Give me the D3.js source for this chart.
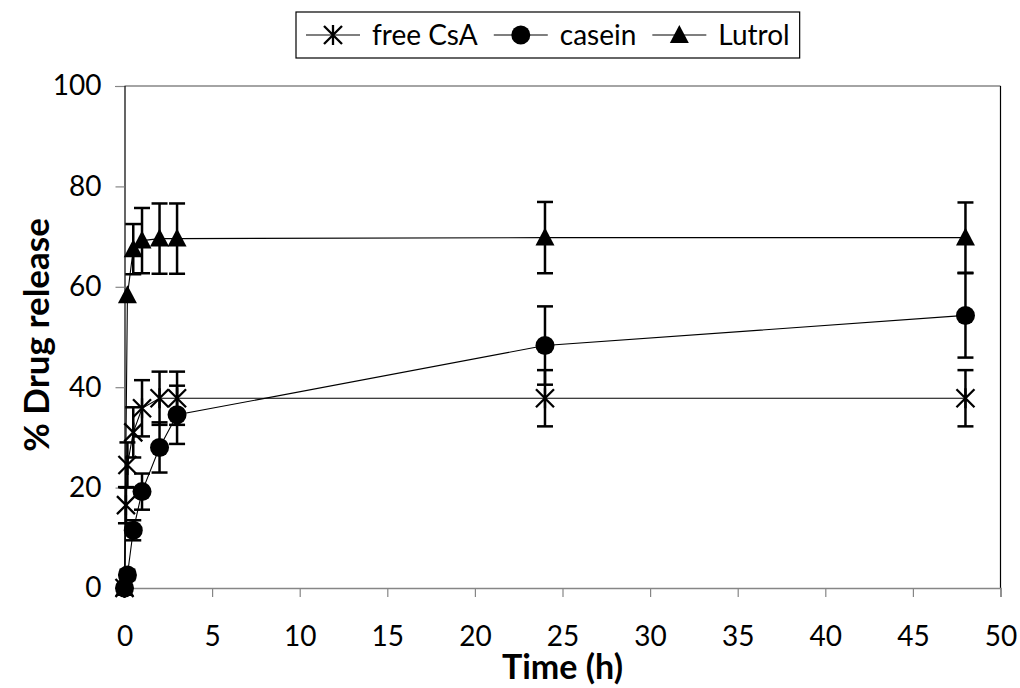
<!DOCTYPE html>
<html>
<head>
<meta charset="utf-8">
<script src="https://cdn.jsdelivr.net/npm/d3@7"></script>
<style>
  body { margin: 0; background: #fff; }
  text { font-family: Lato, "Open Sans", sans-serif; fill: #000; }
</style>
</head>
<body>
<div id="chart-area"></div>
<script>
// DATA
const timesFree = [0, 0.083, 0.167, 0.5, 1, 2, 3, 24, 48]
const freeCsA = [0, 16.5, 24.5, 31, 35.8, 37.8, 37.8, 37.8, 37.8]
const freeCsAErr = [0, 3.6, 4.5, 5, 5.6, 5.3, 5.3, 5.6, 5.6]

const timesCasein = [0, 0.167, 0.5, 1, 2, 3, 24, 48]
const casein = [0, 2.6, 11.5, 19.2, 28, 34.5, 48.3, 54.3]
const caseinErr = [0, 1, 2, 3.6, 5, 5.8, 7.8, 8.4]

const timesLutrol = [0, 0.167, 0.5, 1, 2, 3, 24, 48]
const lutrol = [0, 58.3, 67.5, 69.2, 69.6, 69.6, 69.8, 69.8]
const lutrolErr = [0, 0, 5, 6.5, 7, 7, 7.1, 7]

const seriesNames = ["free CsA", "casein", "Lutrol"]
const xTicks = [0, 5, 10, 15, 20, 25, 30, 35, 40, 45, 50]
const yTicks = [0, 20, 40, 60, 80, 100]

const W = 1020, H = 688
const MARGIN = { LEFT: 124.5, RIGHT: 19.5, TOP: 86, BOTTOM: 100 }
const WIDTH = W - MARGIN.LEFT - MARGIN.RIGHT
const HEIGHT = H - MARGIN.TOP - MARGIN.BOTTOM

const svg = d3.select("#chart-area").append("svg")
  .attr("width", W)
  .attr("height", H)

const g = svg.append("g")
  .attr("transform", `translate(${MARGIN.LEFT}, ${MARGIN.TOP})`)

const xScale = d3.scaleLinear().domain([0, 50]).range([0, WIDTH])
const yScale = d3.scaleLinear().domain([0, 100]).range([HEIGHT, 0])

// plot border (top + right)
g.append("line").attr("x1", 0).attr("x2", WIDTH).attr("y1", 0).attr("y2", 0)
  .attr("stroke", "#868686").attr("stroke-width", 1.5)
g.append("line").attr("x1", WIDTH).attr("x2", WIDTH).attr("y1", 0).attr("y2", HEIGHT)
  .attr("stroke", "#000").attr("stroke-width", 1.2)

// AXES
const xAxis = d3.axisBottom(xScale).tickValues(xTicks).tickSize(9).tickPadding(29)
const xg = g.append("g").attr("transform", `translate(0, ${HEIGHT})`).call(xAxis)
xg.select(".domain").attr("stroke", "#868686").attr("stroke-width", 1.5)
xg.selectAll(".tick line").attr("stroke", "#868686").attr("stroke-width", 1.2)
xg.selectAll("text").style("font-size", "28px").attr("fill", "#000")

const yAxis = d3.axisLeft(yScale).tickValues(yTicks).tickSize(9).tickPadding(14)
const yg = g.append("g").call(yAxis)
yg.select(".domain").attr("stroke", "#000").attr("stroke-width", 1.2)
yg.selectAll(".tick line").attr("stroke", "#868686").attr("stroke-width", 1.2)
yg.selectAll("text").style("font-size", "28px").attr("fill", "#000")

// axis titles
svg.append("text")
  .attr("x", MARGIN.LEFT + WIDTH / 2).attr("y", 679)
  .attr("text-anchor", "middle")
  .style("font-size", "34px").style("font-weight", "bold")
  .text("Time (h)")

svg.append("text")
  .attr("transform", `translate(49, ${MARGIN.TOP + HEIGHT / 2 - 2}) rotate(-90)`)
  .attr("text-anchor", "middle")
  .style("font-size", "35px").style("font-weight", "bold")
  .text("% Drug release")

// SERIES
const series = [
  { name: seriesNames[0], t: timesFree, v: freeCsA, e: freeCsAErr, marker: "star" },
  { name: seriesNames[1], t: timesCasein, v: casein, e: caseinErr, marker: "circle" },
  { name: seriesNames[2], t: timesLutrol, v: lutrol, e: lutrolErr, marker: "triangle" }
]

function drawMarker(sel, type) {
  if (type === "star") {
    sel.append("path").attr("d", "M-9,-9L9,9M-9,9L9,-9M0,-10L0,10")
      .attr("stroke", "#000").attr("stroke-width", 2.3).attr("fill", "none")
  } else if (type === "circle") {
    sel.append("circle").attr("r", 9.5).attr("fill", "#000")
  } else {
    sel.append("path").attr("d", "M0,-10L9.5,8L-9.5,8Z").attr("fill", "#000")
  }
}

const line = d3.line().x(d => xScale(d.t)).y(d => yScale(d.v))

series.forEach(s => {
  const pts = s.t.map((t, i) => ({ t: t, v: s.v[i], e: s.e[i] }))
  const sg = g.append("g")

  sg.append("path").datum(pts)
    .attr("d", line)
    .attr("fill", "none").attr("stroke", "#000").attr("stroke-width", 1.1)

  const eb = sg.selectAll(".err").data(pts.filter(d => d.e > 0)).enter().append("g")
    .attr("class", "err")
    .attr("transform", d => `translate(${xScale(d.t)},0)`)
  eb.append("line")
    .attr("y1", d => yScale(d.v + d.e)).attr("y2", d => yScale(d.v - d.e))
    .attr("stroke", "#000").attr("stroke-width", 2.5)
  eb.append("line").attr("x1", -8).attr("x2", 8)
    .attr("y1", d => yScale(d.v + d.e)).attr("y2", d => yScale(d.v + d.e))
    .attr("stroke", "#000").attr("stroke-width", 2.5)
  eb.append("line").attr("x1", -8).attr("x2", 8)
    .attr("y1", d => yScale(d.v - d.e)).attr("y2", d => yScale(d.v - d.e))
    .attr("stroke", "#000").attr("stroke-width", 2.5)

  sg.selectAll(".pt").data(pts).enter().append("g")
    .attr("class", "pt")
    .attr("transform", d => `translate(${xScale(d.t)},${yScale(d.v)})`)
    .each(function () { drawMarker(d3.select(this), s.marker) })
})

// LEGEND
const legend = svg.append("g").attr("transform", "translate(296, 35)")
const box = legend.append("rect")
  .attr("fill", "#fff").attr("stroke", "#000").attr("stroke-width", 1.2)
let cx = 10
series.forEach(s => {
  const it = legend.append("g").attr("transform", `translate(${cx}, 0)`)
  it.append("line").attr("x1", 0).attr("x2", 54).attr("y1", 0).attr("y2", 0)
    .attr("stroke", "#000").attr("stroke-width", 1.1)
  const m = it.append("g").attr("transform", "translate(27,0)")
  drawMarker(m, s.marker)
  const t = it.append("text").attr("x", 66).attr("y", 0).attr("dy", "0.35em")
    .style("font-size", "28px").text(s.name)
  cx += 66 + t.node().getComputedTextLength() + 16
})
const legendW = cx - 6
box.attr("x", 0).attr("y", -23).attr("width", legendW).attr("height", 46)
</script>
</body>
</html>
